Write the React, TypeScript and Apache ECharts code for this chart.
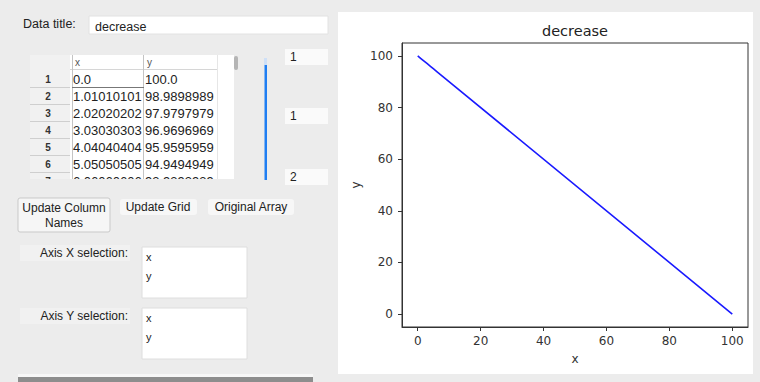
import React, { useEffect, useRef } from "react";
import * as echarts from "echarts";

// ---- data ----
const chartTitle = "decrease";
const columnNames = ["x", "y"];
const xValues = [0, 1.0101010101010102, 2.0202020202020203, 3.0303030303030303, 4.040404040404041, 5.050505050505051, 6.0606060606060606, 100];
const yValues = [100, 98.98989898989899, 97.97979797979798, 96.96969696969697, 95.95959595959596, 94.94949494949495, 93.93939393939394, 0];
const visibleRowCount = 7;
const xTicks = [0, 20, 40, 60, 80, 100];
const yTicks = [0, 20, 40, 60, 80, 100];
const sliderLabels = ["1", "1", "2"];
const buttonLabels = ["Update Column\nNames", "Update Grid", "Original Array"];
const selectionLabels = ["Axis X selection:", "Axis Y selection:"];
const selectionItems = ["x", "y"];

const fmt = (v: number) => (Number.isInteger(v) ? v.toFixed(1) : String(v));

const GUI_FONT = "'Liberation Sans', Arial, sans-serif";
const PLOT_FONT = "'DejaVu Sans', sans-serif";

function buildGraphic() {
  const els: any[] = [];
  // right white panel
  els.push({ type: "rect", z: -20, shape: { x: 338, y: 12, width: 415, height: 362 }, style: { fill: "#ffffff" } });

  // data title
  els.push({ type: "text", x: 23, y: 24, style: { text: "Data title:", font: `12.5px ${GUI_FONT}`, fill: "#222", verticalAlign: "middle" } });
  els.push({ type: "rect", shape: { x: 89, y: 16, width: 239, height: 18 }, style: { fill: "#fff", stroke: "#e2e2e2", lineWidth: 1 } });
  els.push({ type: "text", x: 95, y: 27, style: { text: chartTitle, font: `12.5px ${GUI_FONT}`, fill: "#222", verticalAlign: "middle" } });

  // table area
  els.push({ type: "rect", shape: { x: 70, y: 55, width: 164, height: 125 }, style: { fill: "#ffffff" } });
  els.push({ type: "rect", shape: { x: 30, y: 55, width: 40, height: 125 }, style: { fill: "#f1f1f1" } });
  // header
  els.push({ type: "text", x: 75, y: 62, style: { text: columnNames[0], font: `10px ${GUI_FONT}`, fill: "#555", verticalAlign: "middle" } });
  els.push({ type: "text", x: 147, y: 62, style: { text: columnNames[1], font: `10px ${GUI_FONT}`, fill: "#555", verticalAlign: "middle" } });
  els.push({ type: "line", shape: { x1: 70, y1: 69.5, x2: 218, y2: 69.5 }, style: { stroke: "#d6d6d6", lineWidth: 1 } });
  els.push({ type: "line", shape: { x1: 72.5, y1: 55, x2: 72.5, y2: 180 }, style: { stroke: "#c4c4c4", lineWidth: 1 } });
  els.push({ type: "line", shape: { x1: 143.5, y1: 55, x2: 143.5, y2: 180 }, style: { stroke: "#c4c4c4", lineWidth: 1 } });
  els.push({ type: "line", shape: { x1: 217.5, y1: 55, x2: 217.5, y2: 180 }, style: { stroke: "#e6e6e6", lineWidth: 1 } });

  const rowH = 17;
  const row0 = 79;
  for (let i = 0; i < visibleRowCount; i++) {
    const cy = row0 + i * rowH;
    els.push({ type: "text", x: 48, y: cy, style: { text: String(i + 1), font: `bold 10px ${GUI_FONT}`, fill: "#333", align: "center", verticalAlign: "middle" } });
    els.push({ type: "line", shape: { x1: 30, y1: cy + 8.5, x2: 70, y2: cy + 8.5 }, style: { stroke: "#cfcfcf", lineWidth: 1 } });
    els.push({ type: "text", x: 73, y: cy, style: { text: fmt(xValues[i]), font: `13px ${GUI_FONT}`, fill: "#222", verticalAlign: "middle", width: 73, overflow: "truncate", ellipsis: "" } });
    els.push({ type: "text", x: 145, y: cy, style: { text: fmt(yValues[i]), font: `13px ${GUI_FONT}`, fill: "#222", verticalAlign: "middle", width: 73, overflow: "truncate", ellipsis: "" } });
  }
  // first row underline
  els.push({ type: "line", shape: { x1: 72, y1: 87.5, x2: 144, y2: 87.5 }, style: { stroke: "#777", lineWidth: 1 } });
  // cover clipping the table bottom
  els.push({ type: "rect", shape: { x: 26, y: 179, width: 215, height: 12 }, style: { fill: "#ececec" } });
  // scrollbar thumb
  els.push({ type: "rect", shape: { x: 234, y: 56, width: 4, height: 14, r: 2 }, style: { fill: "#b5b5b5" } });

  // slider
  els.push({ type: "rect", shape: { x: 264, y: 58, width: 3, height: 7 }, style: { fill: "#cfe0f7" } });
  els.push({ type: "rect", shape: { x: 264.5, y: 65, width: 2.5, height: 115 }, style: { fill: "#1f7ef2" } });
  const sliderY = [57, 116, 177];
  sliderLabels.forEach((t, i) => {
    els.push({ type: "rect", shape: { x: 285, y: sliderY[i] - 8, width: 43, height: 16 }, style: { fill: "#fafafa" } });
    els.push({ type: "text", x: 290, y: sliderY[i], style: { text: t, font: `12px ${GUI_FONT}`, fill: "#222", verticalAlign: "middle" } });
  });

  // buttons
  els.push({ type: "rect", shape: { x: 18, y: 198, width: 92, height: 34, r: 2 }, style: { fill: "#f6f6f6", stroke: "#c9c9c9", lineWidth: 1 } });
  els.push({ type: "text", x: 64, y: 215, style: { text: buttonLabels[0], font: `12px ${GUI_FONT}`, fill: "#222", align: "center", verticalAlign: "middle", lineHeight: 15 } });
  els.push({ type: "rect", shape: { x: 120, y: 199, width: 77, height: 16, r: 3 }, style: { fill: "#f7f7f7" } });
  els.push({ type: "text", x: 158, y: 207, style: { text: buttonLabels[1], font: `12px ${GUI_FONT}`, fill: "#222", align: "center", verticalAlign: "middle" } });
  els.push({ type: "rect", shape: { x: 208, y: 199, width: 86, height: 16, r: 3 }, style: { fill: "#f7f7f7" } });
  els.push({ type: "text", x: 251, y: 207, style: { text: buttonLabels[2], font: `12px ${GUI_FONT}`, fill: "#222", align: "center", verticalAlign: "middle" } });

  // selections
  const selLabelY = [253, 316];
  const boxY = [247, 308];
  selectionLabels.forEach((t, i) => {
    els.push({ type: "rect", shape: { x: 20, y: selLabelY[i] - 8, width: 110, height: 16 }, style: { fill: "#f1f1f1" } });
    els.push({ type: "text", x: 128, y: selLabelY[i], style: { text: t, font: `12px ${GUI_FONT}`, fill: "#222", align: "right", verticalAlign: "middle" } });
    els.push({ type: "rect", shape: { x: 142, y: boxY[i], width: 105, height: 51 }, style: { fill: "#ffffff", stroke: "#dedede", lineWidth: 1 } });
    selectionItems.forEach((s, j) => {
      els.push({ type: "text", x: 146, y: boxY[i] + 10 + j * 19, style: { text: s, font: `11px ${GUI_FONT}`, fill: "#222", verticalAlign: "middle" } });
    });
  });

  // bottom bar
  els.push({ type: "rect", shape: { x: 18, y: 374, width: 295, height: 3 }, style: { fill: "#f7f7f7" } });
  els.push({ type: "rect", shape: { x: 18, y: 377, width: 295, height: 5 }, style: { fill: "#8d8d8d" } });
  return els;
}

export default function App() {
  const ref = useRef<HTMLDivElement>(null);
  useEffect(() => {
    document.body.style.margin = "0";
    const chart = echarts.init(ref.current!, undefined, { renderer: "svg" });
    const axisColor = "#333";
    chart.setOption({
      animation: false,
      backgroundColor: "#ececec",
      title: {
        text: chartTitle,
        left: 575,
        top: 23,
        padding: 0,
        textAlign: "center",
        textStyle: { fontFamily: PLOT_FONT, fontSize: 14.5, fontWeight: "normal", color: "#222" },
      },
      grid: {
        left: 402,
        top: 43,
        right: 12,
        bottom: 55,
        show: true,
        borderColor: axisColor,
        borderWidth: 1,
        backgroundColor: "#fff",
      },
      xAxis: {
        type: "value",
        min: -5,
        max: 105,
        splitLine: { show: false },
        axisLine: { show: true, onZero: false, lineStyle: { color: axisColor, width: 1 } },
        axisTick: { show: true, length: 4, customValues: xTicks, lineStyle: { color: axisColor } },
        axisLabel: { customValues: xTicks, margin: 8, fontFamily: PLOT_FONT, fontSize: 12, color: "#333" },
        name: columnNames[0],
        nameLocation: "middle",
        nameGap: 26,
        nameTextStyle: { fontFamily: PLOT_FONT, fontSize: 12, color: "#333" },
      },
      yAxis: {
        type: "value",
        min: -5,
        max: 105,
        splitLine: { show: false },
        axisLine: { show: true, onZero: false, lineStyle: { color: axisColor, width: 1 } },
        axisTick: { show: true, length: 4, customValues: yTicks, lineStyle: { color: axisColor } },
        axisLabel: { customValues: yTicks, margin: 9, fontFamily: PLOT_FONT, fontSize: 12, color: "#333" },
        name: columnNames[1],
        nameLocation: "middle",
        nameGap: 40,
        nameRotate: 90,
        nameTextStyle: { fontFamily: PLOT_FONT, fontSize: 12, color: "#333" },
      },
      series: [
        {
          type: "line",
          data: xValues.map((x, i) => [x, yValues[i]]),
          showSymbol: false,
          lineStyle: { color: "#1a1aff", width: 1.6 },
          itemStyle: { color: "#1a1aff" },
        },
      ],
      graphic: buildGraphic(),
    });
    return () => chart.dispose();
  }, []);
  return <div ref={ref} style={{ width: 760, height: 382 }} />;
}
